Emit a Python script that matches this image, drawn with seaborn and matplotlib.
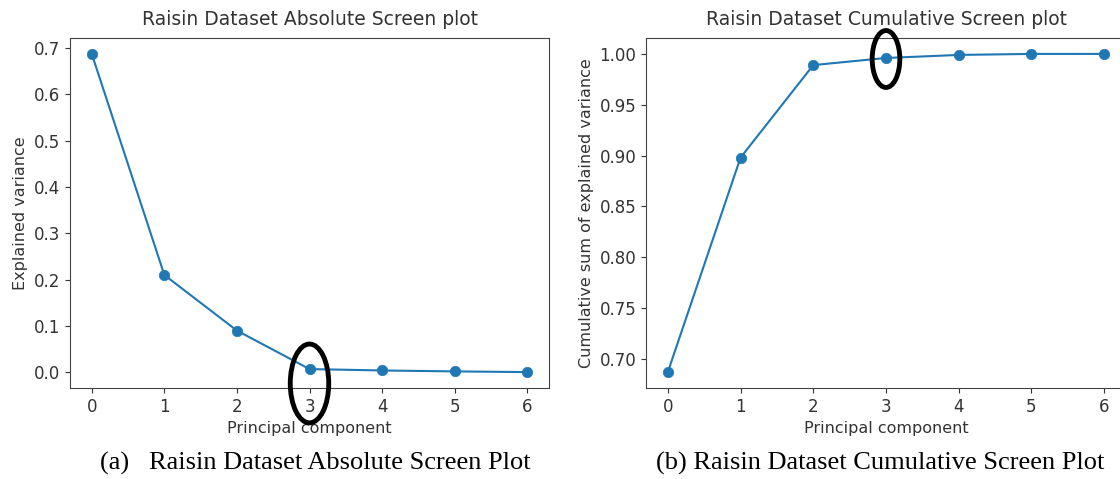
import matplotlib
matplotlib.use("Agg")
import matplotlib.pyplot as plt
from matplotlib.patches import Ellipse
import seaborn as sns
import pandas as pd

# ---- data ----
components = [0, 1, 2, 3, 4, 5, 6]
explained_variance = [0.687, 0.210, 0.090, 0.007, 0.004, 0.002, 0.0005]
cumulative_variance = [0.687, 0.898, 0.989, 0.996, 0.999, 1.000, 1.000]
titles = ["Raisin Dataset Absolute Screen plot", "Raisin Dataset Cumulative Screen plot"]
ylabels = ["Explained variance", "Cumulative sum of explained variance"]
xlabel = "Principal component"
captions = ["(a)   Raisin Dataset Absolute Screen Plot", "(b) Raisin Dataset Cumulative Screen Plot"]
cum_ticks = [0.70, 0.75, 0.80, 0.85, 0.90, 0.95, 1.00]
highlight_index = 3

TEXT = "#333333"
plt.rcParams["font.family"] = ["DejaVu Sans"]
plt.rcParams["text.color"] = TEXT
plt.rcParams["axes.labelcolor"] = TEXT
plt.rcParams["xtick.color"] = TEXT
plt.rcParams["ytick.color"] = TEXT
plt.rcParams["axes.edgecolor"] = "#444444"

W, H = 1120, 479
fig = plt.figure(figsize=(W / 100, H / 100), dpi=100)

ax1 = fig.add_axes([70 / W, 1 - 388 / H, 479 / W, 350 / H])
ax2 = fig.add_axes([646 / W, 1 - 388 / H, 480 / W, 350 / H])

df = pd.DataFrame({"pc": components, "ev": explained_variance, "cv": cumulative_variance})
blue = "#1f77b4"

for ax, col, title, ylab in [(ax1, "ev", titles[0], ylabels[0]), (ax2, "cv", titles[1], ylabels[1])]:
    sns.lineplot(data=df, x="pc", y=col, ax=ax, color=blue, marker="o",
                 markersize=7.5, markeredgecolor=blue, markeredgewidth=0.5, linewidth=1.5)
    ax.set_title(title, fontsize=13.5, color=TEXT, pad=9)
    ax.set_xlabel(xlabel, fontsize=11.5, labelpad=4)
    ax.set_ylabel(ylab, fontsize=11.5)
    ax.set_xticks(components)
    ax.tick_params(labelsize=12)

ax2.set_yticks(cum_ticks)
ax2.set_yticklabels([f"{v:.2f}" for v in cum_ticks])

# highlight ellipses around the elbow component
e1 = Ellipse((components[highlight_index], -0.024), width=0.53, height=0.17,
             fill=False, edgecolor="black", linewidth=3.5, clip_on=False, zorder=5)
ax1.add_patch(e1)
e2 = Ellipse((components[highlight_index], 0.995), width=0.38, height=0.056,
             fill=False, edgecolor="black", linewidth=3.5, clip_on=False, zorder=5)
ax2.add_patch(e2)

# captions
for xc, cap in zip([315 / W, 880 / W], captions):
    fig.text(xc, 1 - 463 / H, cap, ha="center", va="center", fontsize=19,
             family=["Liberation Serif", "DejaVu Serif"], color="black")

fig.savefig("out.png", dpi=100, facecolor="white")
